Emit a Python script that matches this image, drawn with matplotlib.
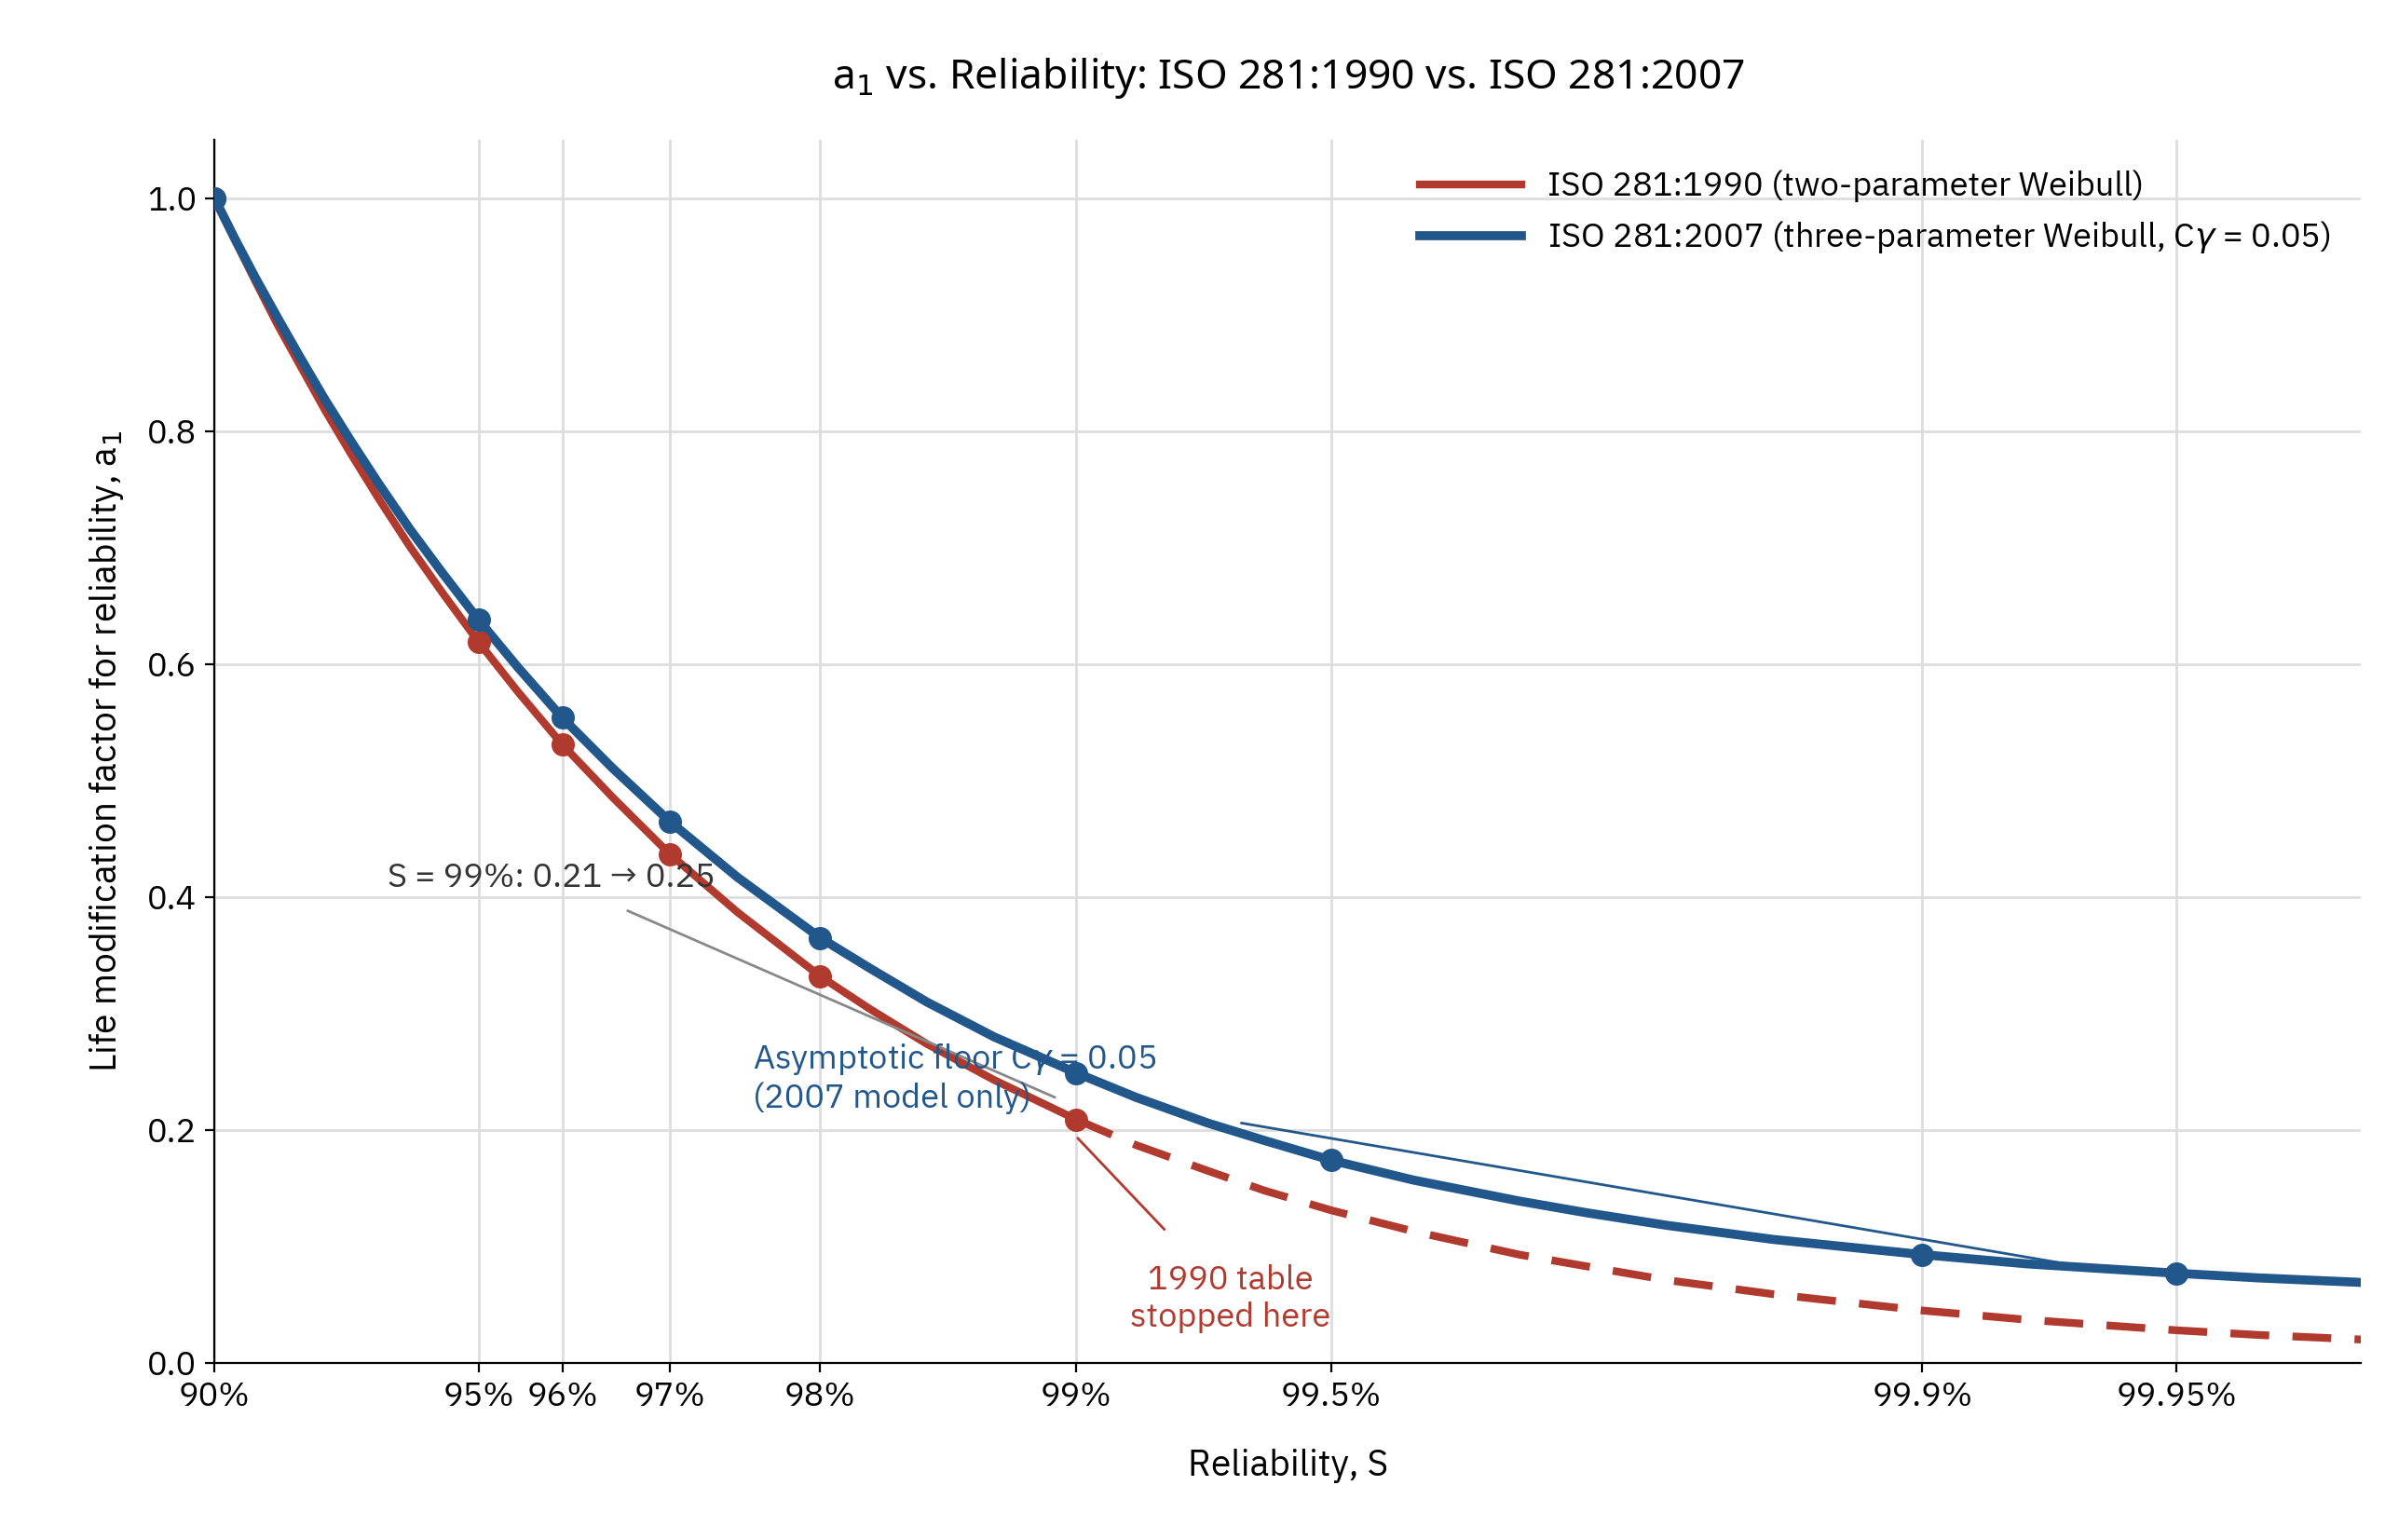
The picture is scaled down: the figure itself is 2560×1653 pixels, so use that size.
import numpy as np
import matplotlib.pyplot as plt

# reliability levels and a1 values
rel = [0.90, 0.905, 0.91, 0.915, 0.92, 0.925, 0.93, 0.935, 0.94, 0.945, 0.95, 0.955,
       0.96, 0.965, 0.97, 0.975, 0.98, 0.9825, 0.985, 0.9875, 0.99, 0.9915, 0.993,
       0.994, 0.995, 0.996, 0.997, 0.9975, 0.998, 0.9985, 0.999, 0.99925, 0.9995,
       0.9996, 0.9997]
a1_1990 = [1.0, 0.965, 0.929, 0.892, 0.856, 0.818, 0.780, 0.741, 0.701, 0.661, 0.619, 0.576,
           0.531, 0.486, 0.437, 0.387, 0.332, 0.304, 0.274, 0.243, 0.209, 0.187, 0.165,
           0.148, 0.131, 0.113, 0.093, 0.083, 0.071, 0.059, 0.045, 0.037, 0.028,
           0.024, 0.020]
a1_2007 = [1.0, 0.966, 0.932, 0.898, 0.863, 0.827, 0.791, 0.754, 0.716, 0.678, 0.638, 0.597,
           0.554, 0.511, 0.465, 0.417, 0.365, 0.339, 0.310, 0.280, 0.249, 0.228, 0.206,
           0.191, 0.174, 0.157, 0.139, 0.129, 0.118, 0.106, 0.093, 0.085, 0.077,
           0.073, 0.069]

pts_1990_s = [0.90, 0.95, 0.96, 0.97, 0.98, 0.99]
pts_1990_a = [1.0, 0.619, 0.531, 0.437, 0.332, 0.209]
pts_2007_s = [0.90, 0.95, 0.96, 0.97, 0.98, 0.99, 0.995, 0.999, 0.9995]
pts_2007_a = [1.0, 0.638, 0.554, 0.465, 0.365, 0.249, 0.174, 0.093, 0.077]

tick_s = [0.90, 0.95, 0.96, 0.97, 0.98, 0.99, 0.995, 0.999, 0.9995]
tick_lab = ["90%", "95%", "96%", "97%", "98%", "99%", "99.5%", "99.9%", "99.95%"]

RED = "#b03a2e"
BLUE = "#21578a"

def tx(s):
    return -np.log(-np.log(np.asarray(s)))

plt.rcParams['font.family'] = ['IBM Plex Sans', 'Noto Sans', 'DejaVu Sans']
fig = plt.figure(figsize=(12.8, 8.265), dpi=200)
ax = fig.add_axes([0.09, 0.115, 0.9, 0.794])

x = tx(rel)
cut = rel.index(0.99)
ax.plot(x[:cut + 1], a1_1990[:cut + 1], color=RED, lw=3, label="ISO 281:1990 (two-parameter Weibull)", zorder=3)
ax.plot(x[cut:], a1_1990[cut:], color=RED, lw=3, ls=(0, (5, 3)), zorder=3)
ax.plot(x, a1_2007, color=BLUE, lw=3.5, label="ISO 281:2007 (three-parameter Weibull, C$\\gamma$ = 0.05)", zorder=4)
ax.plot(tx(pts_1990_s), pts_1990_a, 'o', color=RED, ms=8, zorder=5)
ax.plot(tx(pts_2007_s), pts_2007_a, 'o', color=BLUE, ms=8, zorder=6)

ax.set_xticks(tx(tick_s))
ax.set_xticklabels(tick_lab, fontsize=13)
ax.set_xlim(tx(0.90), 8.104)
ax.set_ylim(0, 1.05)
ax.set_yticks([0, 0.2, 0.4, 0.6, 0.8, 1.0])
ax.set_yticklabels(["0.0", "0.2", "0.4", "0.6", "0.8", "1.0"], fontsize=13)
ax.grid(True, color="#dddddd", lw=1)
ax.set_axisbelow(True)
for sp in ["top", "right"]:
    ax.spines[sp].set_visible(False)

ax.set_xlabel("Reliability, S", fontsize=14, labelpad=14)
ax.set_ylabel("Life modification factor for reliability, a$_1$", fontsize=14, labelpad=8)
ax.set_title("a$_1$ vs. Reliability: ISO 281:1990 vs. ISO 281:2007", fontsize=16,
             fontweight="bold", family=['Noto Sans', 'DejaVu Sans'], pad=20)

ax.annotate("S = 99%: 0.21 → 0.25", xy=(4.542, 0.228), xytext=(2.721, 0.417),
            fontsize=13, color="#333333", va="center",
            arrowprops=dict(arrowstyle="-", color="#888888", lw=1, shrinkA=12, shrinkB=0))
ax.text(3.717, 0.245, "Asymptotic floor C$\\gamma$ = 0.05\n(2007 model only)",
        fontsize=13, color=BLUE, va="center")
ax.annotate("", xy=(7.375, 0.081), xytext=(5.05, 0.206),
            arrowprops=dict(arrowstyle="-", color=BLUE, lw=1, shrinkA=0, shrinkB=0))
ax.annotate("1990 table\nstopped here", xy=(4.604, 0.193), xytext=(5.02, 0.055),
            fontsize=13, color=RED, ha="center", va="center",
            arrowprops=dict(arrowstyle="-", color=RED, lw=1, shrinkA=16, shrinkB=0))

ax.legend(loc="upper right", frameon=False, fontsize=13, handlelength=3)
fig.savefig("out.png", dpi=200)
